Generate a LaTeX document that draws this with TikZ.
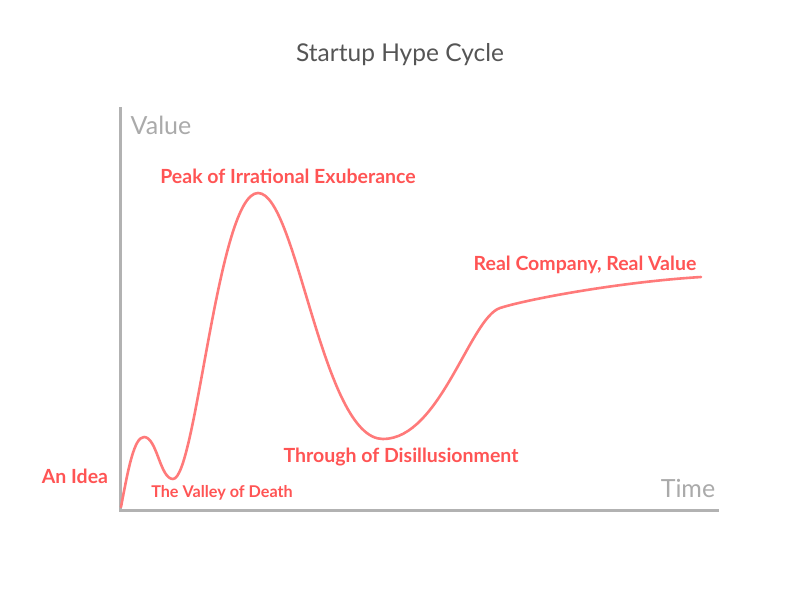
\documentclass[tikz,border=0pt]{standalone}
\usepackage{fontspec}
\setmainfont{Lato}
\usetikzlibrary{positioning}
\definecolor{hypered}{RGB}{255,84,84}
\definecolor{curvered}{RGB}{255,122,122}
\definecolor{axisgray}{RGB}{178,178,178}
\definecolor{namegray}{RGB}{170,170,170}
\definecolor{titlegray}{RGB}{85,85,85}
\tikzset{
  hypepic/.style={
    x=1pt,y=-1pt
    ,inner sep=0pt
    ,outer sep=0pt
  }
  ,axis/.style={draw=axisgray,line width=3pt}
  ,axisname/.style={font=\fontsize{25}{28}\selectfont,color=namegray}
  ,charttitle/.style={font=\fontsize{24.5}{28}\selectfont,color=titlegray}
  ,phase/.style={font=\fontsize{19.5}{22}\selectfont\bfseries,color=hypered}
  ,smallphase/.style={phase,font=\fontsize{16.2}{19}\selectfont\bfseries}
  ,hype/.style={draw=curvered,line width=2.6pt,line cap=round,line join=round}
}

\begin{document}
\begin{tikzpicture}[hypepic]
  \useasboundingbox (0,0) rectangle (800,592);
  % title
  \node[charttitle] (title) at (400,55) {Startup Hype Cycle};
  % axes
  \coordinate (origin) at (120,510);
  \coordinate (ytop) at (120,107);
  \coordinate (xend) at (719,510);
  \draw[axis] (ytop) -- (origin) -- (xend);
  \node[axisname] (valuenm) at (161,125) {Value};
  \node[axisname] (timenm) at (688,488) {Time};
  % the cycle
  \draw[hype] (121,507)
    .. controls (128,470) and (134,437) .. (144,437)
    .. controls (157,437) and (160,479) .. (173,479)
    .. controls (196,479) and (218,193) .. (258,193)
    .. controls (297,193) and (322,439) .. (383,439)
    .. controls (440,439) and (470,318) .. (500,308)
    .. controls (528,299) and (620,282) .. (701,277);
  % phases
  \node[phase] (idea) at (75,476) {An Idea};
  \node[smallphase] (valley) at (222,493) {The Valley of Death};
  \node[phase] (peak) at (288,176) {Peak of Irrational Exuberance};
  \node[phase] (trough) at (401,457) {Through of Disillusionment};
  \node[phase] (real) at (585,265) {Real Company, Real Value};
\end{tikzpicture}
\end{document}
